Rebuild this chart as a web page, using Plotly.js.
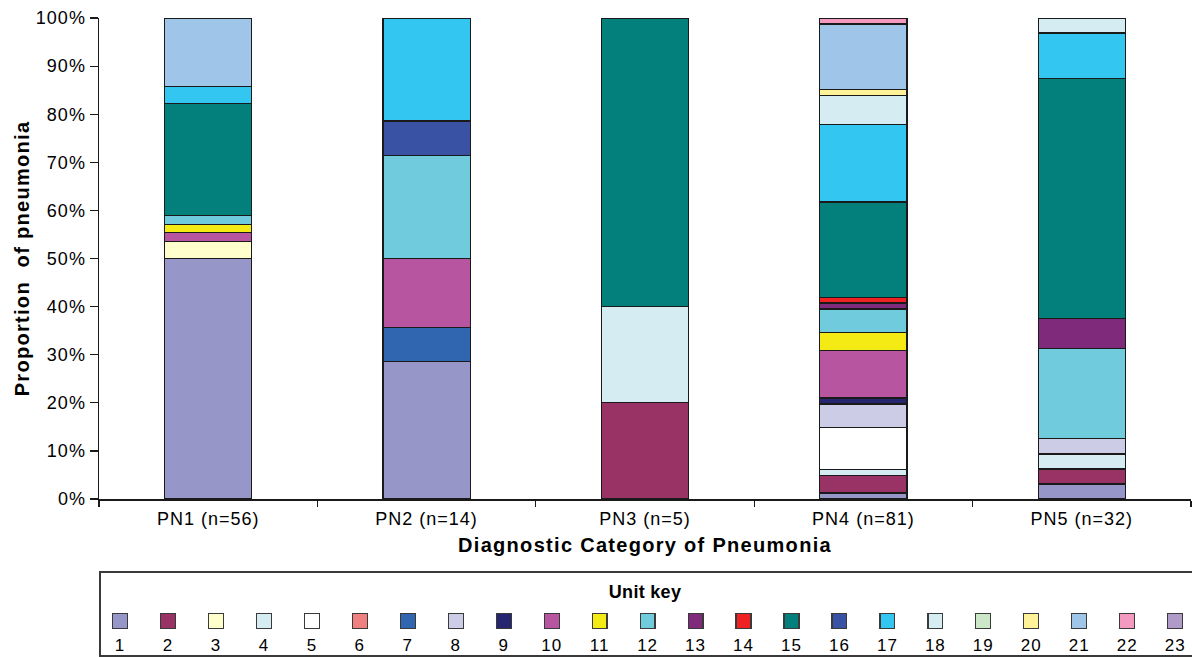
<!DOCTYPE html>
<html>
<head>
<meta charset="utf-8">
<script src="https://cdn.plot.ly/plotly-3.0.1.min.js"></script>
<style>
html,body{margin:0;padding:0;background:#fff;}
#chart{width:1192px;height:657px;}
#chart .xtick text, #chart .ytick text, #chart .x2tick text { letter-spacing: 1px; }
#chart text.xtitle, #chart text.ytitle { letter-spacing: 1.3px; }
#chart .annotation-text { letter-spacing: 0.3px; }
</style>
</head>
<body>
<div id="chart"></div>
<script>
// Categories and sample sizes
const categories = ['PN1 (n=56)', 'PN2 (n=14)', 'PN3 (n=5)', 'PN4 (n=81)', 'PN5 (n=32)'];
const totals = [56, 14, 5, 81, 32];

// Counts per unit for [PN1, PN2, PN3, PN4, PN5]
const unit1  = [28, 4, 0, 1, 1];
const unit2  = [0, 0, 1, 3, 1];
const unit3  = [2, 0, 0, 0, 0];
const unit4  = [0, 0, 1, 1, 1];
const unit5  = [0, 0, 0, 7, 0];
const unit6  = [0, 0, 0, 0, 0];
const unit7  = [0, 1, 0, 0, 0];
const unit8  = [0, 0, 0, 4, 1];
const unit9  = [0, 0, 0, 1, 0];
const unit10 = [1, 2, 0, 8, 0];
const unit11 = [1, 0, 0, 3, 0];
const unit12 = [1, 3, 0, 4, 6];
const unit13 = [0, 0, 0, 1, 2];
const unit14 = [0, 0, 0, 1, 0];
const unit15 = [13, 0, 3, 16, 16];
const unit16 = [0, 1, 0, 0, 0];
const unit17 = [2, 3, 0, 13, 3];
const unit18 = [0, 0, 0, 5, 1];
const unit19 = [0, 0, 0, 0, 0];
const unit20 = [0, 0, 0, 1, 0];
const unit21 = [8, 0, 0, 11, 0];
const unit22 = [0, 0, 0, 1, 0];
const unit23 = [0, 0, 0, 0, 0];

const unitNames = ['1','2','3','4','5','6','7','8','9','10','11','12','13','14','15','16','17','18','19','20','21','22','23'];
const unitColors = ['#9696c8','#993366','#ffffcc','#d4ecf2','#ffffff','#f08080','#3066b0','#ccccE6','#262670','#b855a0',
  '#f5eb14','#70ccdc','#7f2a7a','#ee2222','#03807c','#3a52a3','#33c6f0','#d4ecf2','#cce6c8','#fff299','#9fc6e8','#f49ac1','#b09ac8'];

const yTickVals = [0, 10, 20, 30, 40, 50, 60, 70, 80, 90, 100];
const yTickText = yTickVals.map((v) => v + '%');

const unitCounts = [unit1,unit2,unit3,unit4,unit5,unit6,unit7,unit8,unit9,unit10,unit11,unit12,unit13,unit14,unit15,unit16,unit17,unit18,unit19,unit20,unit21,unit22,unit23];

const FONT = 'Liberation Sans, Arial, sans-serif';
const traces = [];
unitCounts.forEach((counts, i) => {
  traces.push({
    type: 'bar',
    name: unitNames[i],
    x: categories,
    y: counts.map((c, j) => c === 0 ? null : c / totals[j] * 100),
    marker: {color: unitColors[i], line: {color: '#1a1a1a', width: 1.2}},
    width: 0.4,
    hoverinfo: 'name+y',
    showlegend: false,
    xaxis: 'x', yaxis: 'y'
  });
});

// Custom legend ("Unit key") drawn as a small bar subplot
const legendX = unitNames.map((n) => Number(n));
traces.push({
  type: 'bar',
  x: legendX,
  y: unitNames.map(() => 1),
  marker: {color: unitColors, line: {color: '#3a3a3a', width: 1.2}},
  width: 0.31,
  showlegend: false,
  hoverinfo: 'skip',
  xaxis: 'x2', yaxis: 'y2'
});

const H = 657, T = 18, B = 0;
const ph = H - T - B;
const py = (p) => (H - B - p) / ph;
const px = (p) => (p - 99) / 1092;

const layout = {
  width: 1192, height: 657,
  margin: {l: 99, r: 1, t: T, b: B},
  paper_bgcolor: '#ffffff',
  plot_bgcolor: 'rgba(0,0,0,0)',
  barmode: 'stack',
  bargap: 0.6,
  font: {family: FONT, size: 18, color: '#000'},
  xaxis: {
    domain: [0, 1],
    anchor: 'y',
    type: 'category',
    showline: true, linecolor: '#1a1a1a', linewidth: 1.5,
    ticks: 'outside', ticklen: 6, tickcolor: '#1a1a1a', tickwidth: 1.2,
    tickson: 'boundaries',
    ticklabelstandoff: 3,
    tickfont: {family: FONT, size: 18, color: '#000'},
    showgrid: false, zeroline: false,
    title: {text: 'Diagnostic Category of Pneumonia', font: {family: FONT, size: 20, color: '#000', weight: 'bold'}, standoff: 10}
  },
  yaxis: {
    domain: [py(499), 1],
    anchor: 'x',
    range: [0, 100],
    tickvals: yTickVals,
    ticktext: yTickText,
    showline: true, linecolor: '#1a1a1a', linewidth: 1.5,
    ticks: 'outside', ticklen: 8, tickcolor: '#1a1a1a', tickwidth: 1.2,
    tickfont: {family: FONT, size: 18, color: '#000'},
    showgrid: false, zeroline: false,
    title: {text: 'Proportion  of pneumonia', font: {family: FONT, size: 20, color: '#000', weight: 'bold'}, standoff: 5}
  },
  xaxis2: {
    domain: [0, 1],
    anchor: 'y2',
    range: [0.562, 23.33],
    tickvals: legendX,
    ticktext: unitNames,
    ticks: '', showline: false, showgrid: false, zeroline: false,
    tickfont: {family: FONT, size: 17, color: '#000'},
    ticklabelstandoff: 4
  },
  yaxis2: {
    domain: [py(629), py(613)],
    anchor: 'x2',
    range: [0, 1],
    visible: false
  },
  shapes: [
    {type: 'rect', xref: 'paper', yref: 'paper', x0: px(100), x1: px(1193), y0: py(656), y1: py(572),
     line: {color: '#3a3a3a', width: 2}, fillcolor: 'rgba(0,0,0,0)', layer: 'below'}
  ],
  annotations: [
    {text: '<b>Unit key</b>', xref: 'paper', yref: 'paper', x: px(645), y: py(592), showarrow: false,
     xanchor: 'center', yanchor: 'middle', font: {family: FONT, size: 18, color: '#000'}}
  ]
};

Plotly.newPlot('chart', traces, layout, {displayModeBar: false, staticPlot: true});
</script>
</body>
</html>
